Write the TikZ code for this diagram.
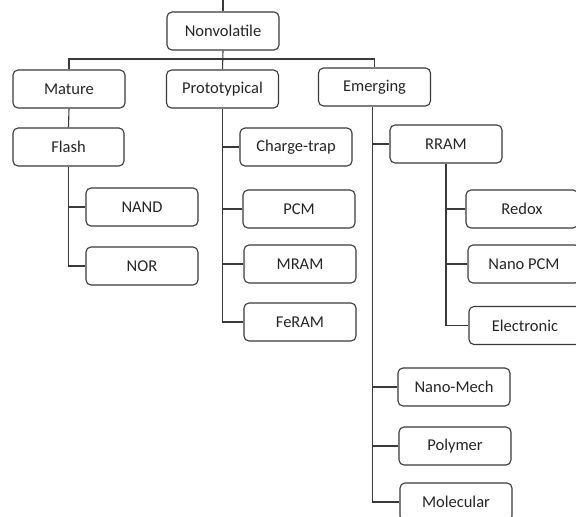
\documentclass[tikz,border=0pt]{standalone}
\usepackage{fontspec}
\setmainfont{Carlito}
\definecolor{ln}{HTML}{3A3A3A}
\definecolor{tx}{HTML}{262626}
\tikzset{
  box/.style={draw=ln, line width=1.1pt, rounded corners=5pt, minimum width=112pt,
    minimum height=38pt, inner sep=0pt, text=tx, font=\fontsize{16.5}{19}\selectfont},
  conn/.style={draw=ln, line width=1.1pt}
}
\begin{document}
\begin{tikzpicture}[x=1pt,y=-1pt]
\clip (0,0) rectangle (576,517);
\fill[white] (0,0) rectangle (576,517);
% nodes
\node[box] (nonv) at (223,31) {Nonvolatile};
\node[box] (mature) at (69,89) {Mature};
\node[box] (proto) at (222.5,89) {Prototypical};
\node[box] (emerg) at (374.5,87) {Emerging};
\node[box, minimum width=111pt] (flash) at (68.5,147) {Flash};
\node[box] (nand) at (142,207) {NAND};
\node[box] (nor) at (142,266) {NOR};
\node[box] (ctrap) at (296,147) {Charge-trap};
\node[box] (pcm) at (299,209) {PCM};
\node[box] (mram) at (300,264) {MRAM};
\node[box] (feram) at (300,322) {FeRAM};
\node[box] (rram) at (446,144) {RRAM};
\node[box] (redox) at (522,209) {Redox};
\node[box] (npcm) at (524,264) {Nano PCM};
\node[box] (elec) at (525,325.5) {Electronic};
\node[box] (nmech) at (454,387) {Nano-Mech};
\node[box] (poly) at (455,446) {Polymer};
\node[box] (molec) at (456,502) {Molecular};
\coordinate (top) at (223,0);
\coordinate (bus) at (223,59);
% connectors
\draw[conn] (top) -- (nonv.north);
\draw[conn] (nonv.south) -- (proto.north);
\draw[conn] (mature.north) |- (bus) -| (emerg.north);
\draw[conn] (mature.south) -- (flash.north);
\draw[conn] (flash.south) |- (nor.west);
\draw[conn] (flash.south |- nand.west) -- (nand.west);
\draw[conn] (proto.south) |- (feram.west);
\draw[conn] (proto.south |- ctrap.west) -- (ctrap.west);
\draw[conn] (proto.south |- pcm.west) -- (pcm.west);
\draw[conn] (proto.south |- mram.west) -- (mram.west);
\draw[conn] ([xshift=-2pt]emerg.south) |- (molec.west);
\draw[conn] ([xshift=-2pt]emerg.south |- rram.west) -- (rram.west);
\draw[conn] ([xshift=-2pt]emerg.south |- nmech.west) -- (nmech.west);
\draw[conn] ([xshift=-2pt]emerg.south |- poly.west) -- (poly.west);
\draw[conn] (rram.south) |- (elec.west);
\draw[conn] (rram.south |- redox.west) -- (redox.west);
\draw[conn] (rram.south |- npcm.west) -- (npcm.west);
\end{tikzpicture}
\end{document}
